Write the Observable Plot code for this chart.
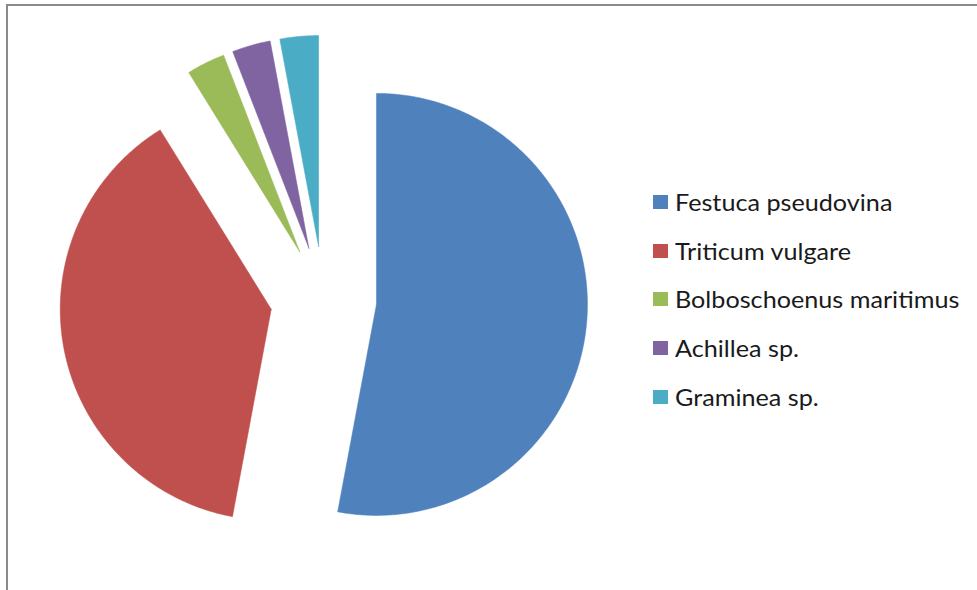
<!DOCTYPE html>
<html><head><meta charset="utf-8">
<script src="https://cdn.jsdelivr.net/npm/d3@7"></script>
<script src="https://cdn.jsdelivr.net/npm/@observablehq/plot@0.6"></script>
<style>
body{margin:0;background:#fff;}
#wrap{position:relative;width:977px;height:590px;overflow:hidden;background:#fff;}
#border{position:absolute;left:6px;top:4px;right:0;bottom:0;border-top:2px solid #8a8a8a;border-left:2px solid #8a8a8a;}
#chart{position:absolute;left:0;top:0;}
#legend{position:absolute;left:653px;top:0;font-family:Lato,"Open Sans",sans-serif;font-size:23px;color:#1a1a1a;}
.row{position:absolute;left:0;display:flex;align-items:center;white-space:nowrap;height:30px;}
.sw{width:15px;height:14px;margin-right:7px;flex:none;}
.lab{display:inline-block;transform:scaleX(1.095);transform-origin:left center;}
</style></head>
<body>
<div id="wrap"><div id="border"></div><div id="chart"></div><div id="legend"></div></div>
<script>
const species = ["Festuca pseudovina","Triticum vulgare","Bolboschoenus maritimus","Achillea sp.","Graminea sp."];
const counts = [18, 13, 1, 1, 1];
const colors = ["#4F81BD","#C0504D","#9BBB59","#8064A2","#4BACC6"];

const explode = 0.252; // fraction of radius
const arcs = d3.pie().sort(null).value(d => d)(counts);
const pts = [];
arcs.forEach((a, i) => {
  const mid = (a.startAngle + a.endAngle) / 2;
  const ox = explode * Math.sin(mid), oy = explode * Math.cos(mid);
  pts.push({name: species[i], x: ox, y: oy});
  const n = Math.max(8, Math.ceil((a.endAngle - a.startAngle) / 0.01));
  for (let k = 0; k <= n; k++) {
    const t = a.startAngle + (a.endAngle - a.startAngle) * k / n;
    pts.push({name: species[i], x: ox + Math.sin(t), y: oy + Math.cos(t)});
  }
  pts.push({name: species[i], x: ox, y: oy});
});

const R = 211, cx = 323, cy = 299, W = 977, H = 590;
const plot = Plot.plot({
  width: W, height: H, margin: 0,
  x: {domain: [-cx / R, (W - cx) / R], axis: null},
  y: {domain: [-(H - cy) / R, cy / R], axis: null},
  color: {domain: species, range: colors},
  style: {background: "transparent"},
  marks: [
    Plot.line(pts, {x: "x", y: "y", z: "name", fill: "name", stroke: "name", strokeWidth: 0.5, curve: "linear"})
  ]
});
document.getElementById("chart").appendChild(plot);

const legend = document.getElementById("legend");
const rowY = [202, 251, 299, 348, 397];
species.forEach((s, i) => {
  const r = document.createElement("div");
  r.className = "row";
  r.style.top = (rowY[i] - 15) + "px";
  r.innerHTML = `<span class="sw" style="background:${colors[i]}"></span><span class="lab">${s}</span>`;
  legend.appendChild(r);
});
</script>
</body></html>
